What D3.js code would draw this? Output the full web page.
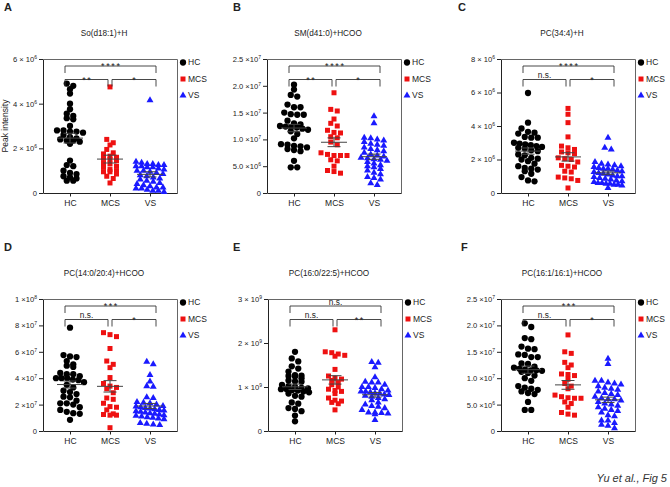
<!DOCTYPE html>
<html><head><meta charset="utf-8">
<script src="https://cdn.jsdelivr.net/npm/d3@7"></script>
<style>
body{margin:0;background:#fff}
svg{display:block}
text{font-family:"Liberation Sans",Arial,Helvetica,sans-serif}
</style>
</head><body>
<svg id="c" width="670" height="487"></svg>
<script>
// ---------- DATA ----------
const groups = ["HC","MCS","VS"];
const panelLetters = ["A","B","C","D","E","F"];
const titles = ["So(d18:1)+H","SM(d41:0)+HCOO","PC(34:4)+H","PC(14:0/20:4)+HCOO","PC(16:0/22:5)+HCOO","PC(16:1/16:1)+HCOO"];

// Panel A (x10^6)
const hcA = [4.9,4.8,4.65,4.45,4.0,3.75,3.55,3.45,3.3,3.35,3.0,2.8,2.75,2.8,2.75,2.7,2.6,2.5,2.45,2.4,2.35,2.3,2.35,2.2,1.45,1.25,1.2,1.0,0.9,0.85,0.75,0.7,0.65,0.55,0.55];
const mcsA = [4.75,2.4,2.25,2.15,1.95,1.8,1.75,1.65,1.6,1.55,1.5,1.45,1.35,1.3,1.2,1.15,1.05,1.0,0.95,0.95,0.85,0.75,0.65,0.45];
const vsA = [4.15,1.4,1.35,1.3,1.3,1.25,1.25,1.2,1.2,1.15,1.15,1.1,1.05,1.0,1.0,0.95,0.9,0.85,0.8,0.75,0.7,0.65,0.6,0.55,0.5,0.45,0.4,0.35,0.3,0.25,0.25,0.2,0.2,0.15,0.1,0.1,0.05];
// Panel B (x10^7)
const hcB = [2.02,1.93,1.83,1.8,1.65,1.6,1.6,1.5,1.47,1.46,1.46,1.35,1.3,1.28,1.25,1.24,1.23,1.22,1.2,1.18,1.15,1.1,1.02,0.91,0.9,0.88,0.87,0.85,0.82,0.8,0.78,0.6,0.48,0.48];
const mcsB = [1.87,1.56,1.53,1.38,1.3,1.25,1.17,1.13,1.12,1.05,1.03,0.95,0.9,0.75,0.72,0.7,0.7,0.7,0.62,0.6,0.5,0.42,0.4,0.37];
const vsB = [1.43,1.3,1.03,1.02,1.0,0.98,0.95,0.92,0.9,0.88,0.85,0.82,0.8,0.78,0.75,0.72,0.7,0.68,0.66,0.65,0.63,0.62,0.6,0.58,0.55,0.52,0.5,0.48,0.45,0.42,0.38,0.35,0.3,0.28,0.25,0.18,0.15];
// Panel C (x10^6)
const hcC = [5.97,4.2,3.85,3.65,3.6,3.55,3.35,3.3,3.3,3.0,2.95,2.9,2.85,2.8,2.75,2.7,2.65,2.55,2.5,2.3,2.25,2.1,2.05,2.0,1.9,1.75,1.6,1.5,1.45,1.4,1.3,1.15,0.95,0.75,0.7];
const mcsC = [5.05,4.7,4.2,3.35,2.8,2.7,2.6,2.45,2.4,2.35,2.1,2.05,2.0,1.85,1.65,1.6,1.55,1.3,1.25,0.95,0.9,0.85,0.75,0.3];
const vsC = [3.3,2.7,2.6,1.85,1.75,1.7,1.65,1.6,1.55,1.5,1.45,1.45,1.4,1.35,1.3,1.25,1.2,1.15,1.1,1.05,1.0,1.0,0.95,0.9,0.85,0.8,0.75,0.7,0.65,0.6,0.6,0.55,0.55,0.5,0.5,0.45,0.3];
// Panel D (x10^7)
const hcD = [7.83,5.75,5.65,5.6,5.3,5.05,4.95,4.85,4.4,4.3,4.3,4.15,4.0,4.0,4.0,3.9,3.85,3.7,3.5,3.3,3.05,2.95,2.8,2.55,2.3,2.6,2.1,2.1,1.8,2.0,1.6,1.45,1.35,1.3,0.85];
const mcsD = [7.45,7.3,7.15,6.25,5.3,5.05,4.8,4.05,3.6,3.2,3.4,3.3,2.9,2.5,2.4,2.1,1.8,1.85,1.6,1.3,1.25,1.2,1.2,0.25];
const vsD = [5.25,5.05,4.25,3.75,3.4,3.35,2.55,2.5,2.2,2.15,2.1,2.0,1.9,1.85,1.8,1.75,1.7,1.65,1.6,1.55,1.5,1.45,1.4,1.35,1.3,1.25,1.2,1.15,1.1,1.05,1.0,0.95,0.9,0.6,0.55,0.5,0.45];
// Panel E (x10^9)
const hcE = [1.8,1.65,1.58,1.47,1.42,1.35,1.27,1.26,1.25,1.24,1.2,1.15,1.13,1.12,1.05,1.02,1.0,0.98,0.97,0.95,0.95,0.93,0.92,0.9,0.88,0.85,0.8,0.78,0.65,0.62,0.52,0.5,0.45,0.35,0.22];
const mcsE = [2.3,1.8,1.78,1.75,1.72,1.7,1.4,1.25,1.2,1.18,1.15,1.1,1.05,1.0,0.95,0.92,0.9,0.85,0.75,0.7,0.68,0.65,0.62,0.48];
const vsE = [1.57,1.55,1.45,1.22,1.12,1.1,1.1,1.05,1.0,1.0,0.98,0.95,0.92,0.9,0.9,0.88,0.86,0.85,0.83,0.82,0.8,0.78,0.75,0.72,0.7,0.65,0.6,0.57,0.55,0.52,0.48,0.42,0.42,0.41,0.4,0.38,0.25];
// Panel F (x10^7)
const hcF = [2.04,1.97,1.76,1.74,1.6,1.56,1.55,1.45,1.44,1.4,1.4,1.28,1.27,1.22,1.2,1.18,1.16,1.15,1.15,1.14,1.12,1.1,1.05,1.0,0.95,0.85,0.82,0.8,0.78,0.75,0.72,0.7,0.55,0.4,0.4];
const mcsF = [1.82,1.5,1.47,1.3,1.25,1.2,1.08,1.07,1.05,0.98,0.9,0.85,0.8,0.68,0.65,0.63,0.62,0.62,0.55,0.52,0.45,0.35,0.32,0.3];
const vsF = [1.37,1.27,0.95,0.95,0.92,0.9,0.88,0.85,0.82,0.8,0.78,0.75,0.72,0.7,0.68,0.65,0.62,0.6,0.6,0.58,0.55,0.52,0.5,0.48,0.45,0.42,0.4,0.38,0.35,0.3,0.28,0.2,0.2,0.15,0.12,0.1,0.05];

const yMax = [6, 2.5, 8, 10, 3, 2.5];
const yTicks = [[0,2,4,6],[0,0.5,1,1.5,2,2.5],[0,2,4,6,8],[0,2,4,6,8,10],[0,1,2,3],[0,0.5,1,1.5,2,2.5]];
const yTickLabels = [
  ["0","2 × 10^6","4 × 10^6","6 × 10^6"],
  ["0","5.0 ×10^6","1.0 ×10^7","1.5 ×10^7","2.0 ×10^7","2.5 ×10^7"],
  ["0","2 × 10^6","4 × 10^6","6 × 10^6","8 × 10^6"],
  ["0","2 ×10^7","4 ×10^7","6 ×10^7","8 ×10^7","1 ×10^8"],
  ["0","1 × 10^9","2 × 10^9","3 × 10^9"],
  ["0","5.0 ×10^6","1.0 ×10^7","1.5 ×10^7","2.0 ×10^7","2.5 ×10^7"]
];
const sigTop = ["****","****","****","***","n.s.","***"];
const sigLeft = ["**","**","n.s.","n.s.","n.s.","n.s."];
const sigRight = ["*","*","*","*","**","*"];
const yLabel = "Peak intensity";
const footer = "Yu et al., Fig 5";

const panelData = [[hcA,mcsA,vsA],[hcB,mcsB,vsB],[hcC,mcsC,vsC],[hcD,mcsD,vsD],[hcE,mcsE,vsE],[hcF,mcsF,vsF]];

// ---------- LAYOUT / STYLE ----------
const W = 134;
const lefts = [43,267,501,43,268,501];
const tops = [59,59,59,299,299,299];
const heights = [134,134,134,132,132,132];
const letterX = [4,233,458,4,233,461];
const letterY = [11,11,11,251,251,251];
const colors = {HC:"#000000", MCS:"#ee1111", VS:"#1a1aff"};
const shapes = {HC:d3.symbolCircle, MCS:d3.symbolSquare, VS:d3.symbolTriangle};
const sizes = {HC:31, MCS:25, VS:21};

const svg = d3.select("#c");
svg.append("rect").attr("width",670).attr("height",487).attr("fill","#fff");

// GraphPad-like row layout: points within a few px vertically share a row
function rows(values, y, cx, binH, maxHalf, step){
  const pts = values.map((v,i)=>({v, y:y(v), i}));
  const sorted = pts.slice().sort((a,b)=>a.y-b.y);
  let row = [], start = null;
  const flush = ()=>{
    const n = row.length;
    const s = n>1 ? Math.min(step, 2*maxHalf/(n-1)) : 0;
    row.forEach((p,j)=>{ p.x = cx + (j-(n-1)/2)*s; });
    row = [];
  };
  for(const p of sorted){
    if(start===null || p.y-start > binH){ if(row.length) flush(); start = p.y; }
    row.push(p);
  }
  if(row.length) flush();
  return pts;
}

panelData.forEach((data,i)=>{
  const h = heights[i];
  const g = svg.append("g").attr("transform",`translate(${lefts[i]},${tops[i]})`);
  const y = d3.scaleLinear().domain([0,yMax[i]]).range([h,0]);
  const x = d3.scalePoint().domain(groups).range([0,W]).padding(0.675);

  g.append("path").attr("d",`M0.5,0.5H${W+0.5}V${h+0.5}`).attr("fill","none").attr("stroke","#666").attr("stroke-width",1);

  const gy = g.append("g").call(d3.axisLeft(y).tickValues(yTicks[i]).tickSize(4).tickPadding(2).tickSizeOuter(0)
      .tickFormat((d,j)=>yTickLabels[i][j]));
  gy.select(".domain").attr("stroke","#222");
  gy.selectAll(".tick line").attr("stroke","#222");
  gy.selectAll(".tick text").attr("font-size",7.6).attr("fill","#222").attr("font-family",null)
    .each(function(d,j){
      const s = yTickLabels[i][j];
      if(s.includes("^")){
        const [b,e] = s.split("^");
        const t = d3.select(this); t.text(null);
        t.append("tspan").text(b);
        t.append("tspan").attr("font-size",5).attr("dy","-0.6em").text(e);
      }
    });

  const gx = g.append("g").attr("transform",`translate(0,${h})`)
    .call(d3.axisBottom(x).tickSize(3.5).tickPadding(3).tickSizeOuter(0));
  gx.select(".domain").attr("stroke","#222");
  gx.selectAll(".tick line").attr("stroke","#222");
  gx.selectAll(".tick text").attr("font-size",8.5).attr("fill","#222").attr("font-family",null);

  groups.forEach((grp,k)=>{
    const pts = rows(data[k], y, x(grp), 4.2, 14, 6.5);
    g.append("g").selectAll("path").data(pts).join("path")
      .attr("transform",p=>`translate(${p.x},${p.y})`)
      .attr("d",d3.symbol().type(shapes[grp]).size(sizes[grp])())
      .attr("fill",colors[grp]);
  });
  groups.forEach((grp,k)=>{
    const vals = data[k];
    const m = d3.mean(vals), sem = d3.deviation(vals)/Math.sqrt(vals.length);
    const cx = x(grp);
    const gg = g.append("g").attr("stroke","#444").attr("stroke-width",1).attr("fill","none");
    gg.append("line").attr("x1",cx-13).attr("x2",cx+13).attr("y1",y(m)).attr("y2",y(m));
    gg.append("line").attr("x1",cx).attr("x2",cx).attr("y1",y(m-sem)).attr("y2",y(m+sem));
    gg.append("line").attr("x1",cx-6.5).attr("x2",cx+6.5).attr("y1",y(m-sem)).attr("y2",y(m-sem));
    gg.append("line").attr("x1",cx-6.5).attr("x2",cx+6.5).attr("y1",y(m+sem)).attr("y2",y(m+sem));
  });

  const hcL = x("HC")-5, mcsL = x("MCS")-2, mcsR = x("MCS")+2, vsR = x("VS")+6;
  const b = g.append("g").attr("stroke","#333").attr("stroke-width",0.9).attr("fill","none");
  b.append("path").attr("d",`M${hcL},14V7H${vsR}V14`);
  b.append("path").attr("d",`M${hcL},27.5V20.5H${mcsL}V27.5`);
  b.append("path").attr("d",`M${mcsR},27.5V20.5H${vsR}V27.5`);
  function sig(label, cx, ly){
    const star = label.includes("*");
    g.append("text").attr("x",cx + (star?0.8:0)).attr("y", ly + (star?3:-1.5))
      .attr("text-anchor","middle").attr("font-size", star?9:8.3)
      .attr("letter-spacing", star?1.6:0).attr("fill","#222").text(label);
  }
  sig(sigTop[i], (hcL+vsR)/2, 7);
  sig(sigLeft[i], (hcL+mcsL)/2, 20.5);
  sig(sigRight[i], (mcsR+vsR)/2, 20.5);

  g.append("text").attr("x",W/2-6).attr("y",-23).attr("text-anchor","middle")
    .attr("font-size",8.2).attr("fill","#222").text(titles[i]);

  const ly = [3.5,20,36.5];
  groups.forEach((grp,k)=>{
    g.append("path").attr("transform",`translate(${W+6},${ly[k]})`)
      .attr("d",d3.symbol().type(shapes[grp]).size(sizes[grp])()).attr("fill",colors[grp]);
    g.append("text").attr("x",W+11).attr("y",ly[k]).attr("dy","0.35em")
      .attr("font-size",8.5).attr("fill","#222").text(grp);
  });

  if(i===0){
    g.append("text").attr("transform",`translate(-35,${h/2}) rotate(-90)`).attr("text-anchor","middle")
      .attr("font-size",8.5).attr("fill","#222").text(yLabel);
  }

  svg.append("text").attr("x",letterX[i]).attr("y",letterY[i]).attr("font-size",11)
    .attr("font-weight","bold").attr("fill","#222").text(panelLetters[i]);
});

svg.append("text").attr("x",667).attr("y",481.5).attr("text-anchor","end")
  .attr("font-size",11).attr("font-style","italic").attr("fill","#333").text(footer);
</script>
</body></html>
